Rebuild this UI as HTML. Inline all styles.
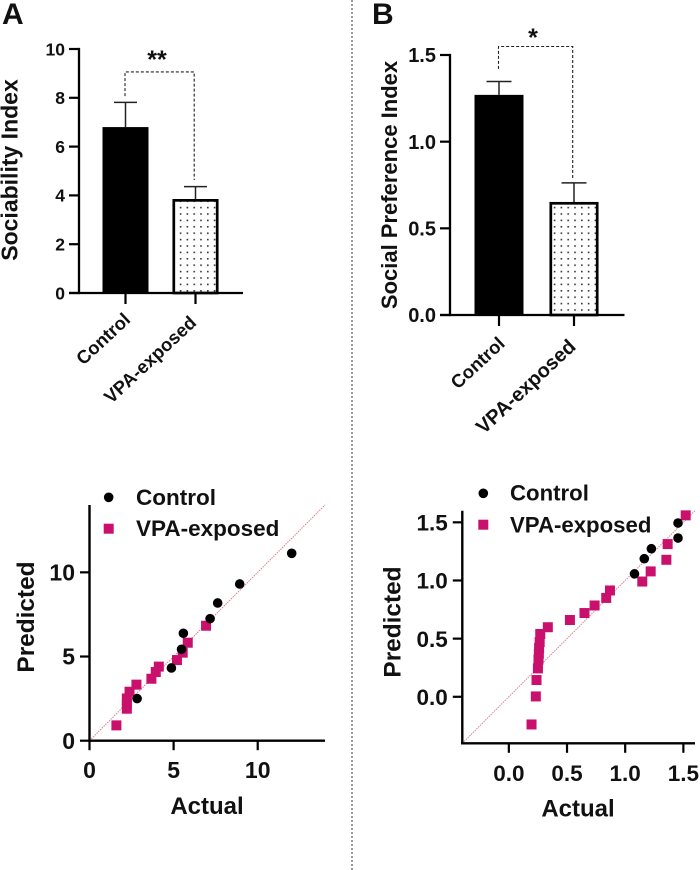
<!DOCTYPE html>
<html lang="en">
<head>
<meta charset="utf-8">
<title>Sociability and social preference charts</title>
<style>
html,body{margin:0;padding:0;background:#fff;width:700px;height:870px;overflow:hidden}
svg{display:block}
text{font-family:"Liberation Sans",sans-serif;font-weight:bold;fill:#111}
</style>
</head>
<body>
<svg id="figure" width="700" height="870" viewBox="0 0 700 870" xmlns="http://www.w3.org/2000/svg">
<defs>
<pattern id="dots" patternUnits="userSpaceOnUse" width="6.8" height="6.4" x="2" y="1">
<rect width="6.8" height="6.4" fill="#fff"/>
<rect x="1" y="1" width="1.6" height="1.6" fill="#333"/>
</pattern>
</defs>
<rect width="700" height="870" fill="#fff"/>
<line x1="352" y1="0" x2="352" y2="870" stroke="#333" stroke-width="1" stroke-dasharray="2 2"/>
<text x="2" y="24" font-size="30">A</text>
<text x="372" y="24" font-size="30">B</text>
<text transform="translate(17.5 170) rotate(-90)" text-anchor="middle" font-size="23">Sociability Index</text>
<text transform="translate(397 185) rotate(-90)" text-anchor="middle" font-size="22">Social Preference Index</text>
<text x="157" y="68" text-anchor="middle" font-size="25">**</text>
<text x="533" y="46" text-anchor="middle" font-size="25">*</text>
<text x="207" y="814" text-anchor="middle" font-size="24">Actual</text>
<text transform="translate(34 617) rotate(-90)" text-anchor="middle" font-size="24.4">Predicted</text>
<text x="578" y="816.5" text-anchor="middle" font-size="24">Actual</text>
<text transform="translate(400.5 622) rotate(-90)" text-anchor="middle" font-size="24.4">Predicted</text>
<g>
<circle cx="108.7" cy="497.3" r="4.8" fill="#000"/>
<text x="136" y="505" font-size="22.5">Control</text>
<rect x="103.7" y="523.7" width="10" height="10" fill="#c8106c"/>
<text x="136" y="536" font-size="22.5">VPA-exposed</text>
</g>
<g>
<circle cx="483.3" cy="493.3" r="4.8" fill="#000"/>
<text x="510" y="500.7" font-size="22.2">Control</text>
<rect x="478.3" y="519.7" width="10" height="10" fill="#c8106c"/>
<text x="510" y="532.7" font-size="22.2">VPA-exposed</text>
</g>
</svg>
<script>
const barCategories = ['Control', 'VPA-exposed'];
const sociabilityMeans = [6.8, 3.85];
const sociabilityErrors = [1.01, 0.51];
const sociabilityTickLabels = ['0', '2', '4', '6', '8', '10'];
const sociabilityBracketLevels = [8.07, 9.06, 4.63];
const preferenceMeans = [1.27, 0.652];
const preferenceErrors = [0.077, 0.11];
const preferenceTickLabels = ['0.0', '0.5', '1.0', '1.5'];
const preferenceBracketLevels = [1.42, 1.549, 0.779];

const scatterATickLabels = ['0', '5', '10'];
const scatterAControlActual = [2.83, 4.87, 5.47, 5.58, 7.17, 7.62, 8.93, 12.02];
const scatterAControlPredicted = [2.5, 4.32, 5.43, 6.38, 7.25, 8.18, 9.31, 11.13];
const scatterAVpaActual = [1.6, 2.22, 2.22, 2.22, 2.38, 2.79, 3.68, 3.94, 4.12, 5.2, 5.54, 5.84, 6.93];
const scatterAVpaPredicted = [0.91, 1.9, 2.18, 2.51, 2.91, 3.33, 3.68, 4.08, 4.4, 4.79, 5.23, 5.82, 6.83];

const scatterBTickLabels = ['0.0', '0.5', '1.0', '1.5'];
const scatterBControlActual = [1.08, 1.164, 1.225, 1.454, 1.454];
const scatterBControlPredicted = [1.057, 1.187, 1.273, 1.365, 1.494];
const scatterBVpaActual = [0.195, 0.232, 0.238, 0.25, 0.255, 0.258, 0.26, 0.265, 0.27, 0.335, 0.525, 0.65, 0.737, 0.837, 0.869, 1.147, 1.219, 1.354, 1.365, 1.52];
const scatterBVpaPredicted = [-0.238, 0.003, 0.144, 0.244, 0.32, 0.37, 0.42, 0.47, 0.54, 0.598, 0.66, 0.72, 0.785, 0.85, 0.914, 0.991, 1.078, 1.178, 1.313, 1.56];

const SVG_NS = 'http://www.w3.org/2000/svg';
const figure = document.getElementById('figure');

function shape(parent, tag, attrs, content) {
  const node = document.createElementNS(SVG_NS, tag);
  Object.keys(attrs).forEach(function (k) { node.setAttribute(k, attrs[k]); });
  if (content !== undefined) node.textContent = content;
  parent.appendChild(node);
  return node;
}
function linear(d0, d1, r0, r1) {
  return function (v) { return r0 + (v - d0) * (r1 - r0) / (d1 - d0); };
}

function drawBarChart(o) {
  const g = shape(figure, 'g', {});
  
  
  const y = linear(0, o.yMax, o.y0, o.yTop);

  o.means.forEach(function (m, i) {
    const cx = o.x0 + i * o.step;
    const capY = y(m + o.errors[i]);
    const stem = shape(g, 'line', { x1: cx, x2: cx, y1: y(m), y2: capY, stroke: '#222', 'stroke-width': 1.5 });
    
    
    const cap = shape(g, 'line', { x1: cx - o.capHalf, x2: cx + o.capHalf, y1: capY, y2: capY, stroke: '#222', 'stroke-width': 1.5 });
    
    
    const solid = i === 0;
    const inset = solid ? 0 : 1.3;
    const bar = shape(g, 'rect', {
      x: cx - o.barWidth / 2 + inset, y: y(m) + inset,
      width: o.barWidth - 2 * inset, height: o.y0 - y(m) - inset,
      fill: solid ? '#000' : 'url(#dots)', stroke: solid ? 'none' : '#000', 'stroke-width': solid ? 0 : 2.7
    });
    
    
    const tick = shape(g, 'line', { x1: cx, x2: cx, y1: o.y0, y2: o.y0 + 11, stroke: '#000', 'stroke-width': 2.2 });
    
    
    const lx = cx + o.labelDx[i], ly = o.y0 + o.labelDy[i];
    const label = shape(g, 'text', { x: lx, y: ly, 'text-anchor': 'end', 'font-size': o.labelFont[i], transform: 'rotate(-43 ' + lx + ' ' + ly + ')' }, barCategories[i]);
    
    
  });

  const yAxis = shape(g, 'line', { x1: o.axisX, x2: o.axisX, y1: o.yTop - 1.1, y2: o.y0 + 1.1, stroke: '#000', 'stroke-width': 2.3 });
  
  
  const xAxis = shape(g, 'line', { x1: o.axisX - 10, x2: o.xEnd, y1: o.y0, y2: o.y0, stroke: '#000', 'stroke-width': 2.3 });
  
  

  o.ticks.forEach(function (t) {
    const ty = y(parseFloat(t));
    const tick = shape(g, 'line', { x1: o.axisX - 10, x2: o.axisX, y1: ty, y2: ty, stroke: '#000', 'stroke-width': 2.2 });
    
    
    const label = shape(g, 'text', { x: o.axisX - 14, y: ty + o.tickFont * 0.36, 'text-anchor': 'end', 'font-size': o.tickFont }, t);
    
    
  });

  const leftX = o.x0 - 0.5, rightX = o.x0 + o.step - 1.3;
  const pts = [[leftX, y(o.bracket[0])], [leftX, y(o.bracket[1])], [rightX, y(o.bracket[1])], [rightX, y(o.bracket[2])]];
  const bracket = shape(g, 'polyline', { points: pts.join(' '), fill: 'none', stroke: '#222', 'stroke-width': 1.1, 'stroke-dasharray': '3 2' });
  
  
}

function drawScatter(o) {
  const g = shape(figure, 'g', {});
  
  
  const x = linear(o.min, o.max, o.left, o.right);
  const y = linear(o.min, o.max, o.bottom, o.top);

  const diag = shape(g, 'line', { x1: x(o.min), y1: y(o.min), x2: x(o.max), y2: y(o.max), stroke: '#d9808f', 'stroke-width': 1, 'stroke-dasharray': '1.5 1' });
  
  

  o.vpaX.forEach(function (v, i) {
    const p = shape(g, 'rect', { x: x(v) - 5, y: y(o.vpaY[i]) - 5, width: 10, height: 10, fill: '#c8106c' });
    
    
  });
  o.ctrlX.forEach(function (v, i) {
    const p = shape(g, 'circle', { cx: x(v), cy: y(o.ctrlY[i]), r: 4.8, fill: '#000' });
    
    
  });

  const yAxis = shape(g, 'line', { x1: o.left, x2: o.left, y1: o.top, y2: o.bottom + 1.2, stroke: '#000', 'stroke-width': 2.4 });
  
  
  const xAxis = shape(g, 'line', { x1: o.left - 1.2, x2: o.right, y1: o.bottom, y2: o.bottom, stroke: '#000', 'stroke-width': 2.4 });
  
  

  o.ticks.forEach(function (t) {
    const v = parseFloat(t);
    const ty = y(v), tx = x(v);
    const yt = shape(g, 'line', { x1: o.left - 9.5, x2: o.left, y1: ty, y2: ty, stroke: '#000', 'stroke-width': 2.2 });
    
    
    const yl = shape(g, 'text', { x: o.left - 14.5, y: ty + 8.2, 'text-anchor': 'end', 'font-size': o.tickFont }, t);
    
    
    const xt = shape(g, 'line', { x1: tx, x2: tx, y1: o.bottom, y2: o.bottom + 9.5, stroke: '#000', 'stroke-width': 2.2 });
    
    
    const xl = shape(g, 'text', { x: tx, y: o.labelY, 'text-anchor': 'middle', 'font-size': o.tickFont }, t);
    
    
  });
}

drawBarChart({
  name: 'sociability-bar-chart', means: sociabilityMeans, errors: sociabilityErrors, ticks: sociabilityTickLabels,
  bracket: sociabilityBracketLevels, yMax: 10, y0: 293, yTop: 49, axisX: 79, xEnd: 243,
  x0: 125.5, step: 70, barWidth: 46, capHalf: 11.5, tickFont: 17.5, labelDx: [6, 2], labelDy: [28, 31], labelFont: [18.5, 18.5]
});
drawBarChart({
  name: 'social-preference-bar-chart', means: preferenceMeans, errors: preferenceErrors, ticks: preferenceTickLabels,
  bracket: preferenceBracketLevels, yMax: 1.5, y0: 315, yTop: 55, axisX: 450, xEnd: 624.5,
  x0: 499, step: 75, barWidth: 49, capHalf: 12.5, tickFont: 20, labelDx: [7, 3], labelDy: [30, 33], labelFont: [18.5, 20]
});
drawScatter({
  name: 'sociability-scatter', ctrlX: scatterAControlActual, ctrlY: scatterAControlPredicted,
  vpaX: scatterAVpaActual, vpaY: scatterAVpaPredicted, ticks: scatterATickLabels,
  min: 0, max: 14, left: 89.5, right: 325, bottom: 740.7, top: 505, labelY: 778, tickFont: 23
});
drawScatter({
  name: 'social-preference-scatter', ctrlX: scatterBControlActual, ctrlY: scatterBControlPredicted,
  vpaX: scatterBVpaActual, vpaY: scatterBVpaPredicted, ticks: scatterBTickLabels,
  min: -0.4, max: 1.6, left: 462.3, right: 695, bottom: 743.3, top: 510.7, labelY: 781, tickFont: 22.5
});
</script>
</body>
</html>
